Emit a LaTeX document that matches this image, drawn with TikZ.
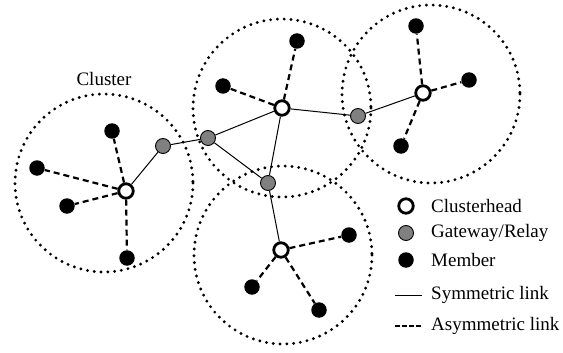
\documentclass[tikz,border=0pt]{standalone}
\usepackage{fontspec}
\setmainfont{Liberation Serif}
\begin{document}
\begin{tikzpicture}[x=1pt,y=-1pt,
  font=\fontsize{19}{21}\selectfont,
  clusterzone/.style={line width=3.2pt,line cap=round,dash pattern=on 0pt off 6.8pt},
  head/.style={circle,draw=black,line width=2.8pt,fill=white,minimum size=14.5pt,inner sep=0pt},
  gate/.style={circle,draw=black,line width=0.9pt,fill=black!50,minimum size=15pt,inner sep=0pt},
  member/.style={circle,fill=black,minimum size=15.5pt,inner sep=0pt},
  sym/.style={line width=1pt},
  asym/.style={line width=2.2pt,dash pattern=on 6pt off 4pt}]
\useasboundingbox (0,0) rectangle (563,353);

% cluster ranges
\draw[clusterzone] (104,183) circle[radius=89];
\draw[clusterzone] (282,108) circle[radius=89];
\draw[clusterzone] (431,94) circle[radius=89];
\draw[clusterzone] (283,255) circle[radius=89];
\node (lab) at (104,79) {Cluster};

% clusterheads
\node[head] (h1) at (126,191) {};
\node[head] (h2) at (282,108) {};
\node[head] (h3) at (423,93) {};
\node[head] (h4) at (281,250) {};

% gateways / relays
\node[gate] (g1) at (163,146) {};
\node[gate] (g2) at (208,138) {};
\node[gate] (g3) at (268,183) {};
\node[gate] (g4) at (358,116) {};

% members
\node[member] (a1) at (112,131) {};
\node[member] (a2) at (37,168) {};
\node[member] (a3) at (67,206) {};
\node[member] (a4) at (127,258) {};
\node[member] (b1) at (297,41) {};
\node[member] (b2) at (223,86) {};
\node[member] (c1) at (416,26) {};
\node[member] (c2) at (469,80) {};
\node[member] (c3) at (401,146) {};
\node[member] (d1) at (349,235) {};
\node[member] (d2) at (252,287) {};
\node[member] (d3) at (319,310) {};

% symmetric links
\draw[sym] (h1) -- (g1);
\draw[sym] (g1) -- (g2);
\draw[sym] (g2) -- (h2);
\draw[sym] (g2) -- (g3);
\draw[sym] (h2) -- (g3);
\draw[sym] (g3) -- (h4);
\draw[sym] (h2) -- (g4);
\draw[sym] (g4) -- (h3);

% asymmetric links
\foreach \m in {a1,a2,a3,a4} \draw[asym] (h1) -- (\m);
\foreach \m in {b1,b2} \draw[asym] (h2) -- (\m);
\foreach \m in {c1,c2,c3} \draw[asym] (h3) -- (\m);
\foreach \m in {d1,d2,d3} \draw[asym] (h4) -- (\m);

% legend
\node[head] (k1) at (406,206) {};
\node[gate] (k2) at (406,233) {};
\node[member] (k3) at (406,260) {};
\coordinate (s1) at (395,295);
\coordinate (s2) at (422,295);
\coordinate (t1) at (395,326);
\coordinate (t2) at (422,326);
\draw[sym] (s1) -- (s2);
\draw[line width=2pt,dash pattern=on 4.5pt off 2.5pt] (t1) -- (t2);
\node[anchor=west,inner sep=0pt] (l1) at (431,206) {Clusterhead};
\node[anchor=west,inner sep=0pt] (l2) at (431,233) {Gateway/Relay};
\node[anchor=west,inner sep=0pt] (l3) at (431,260) {Member};
\node[anchor=west,inner sep=0pt] (l4) at (431,295) {Symmetric link};
\node[anchor=west,inner sep=0pt] (l5) at (431,326) {Asymmetric link};
\end{tikzpicture}
\end{document}
